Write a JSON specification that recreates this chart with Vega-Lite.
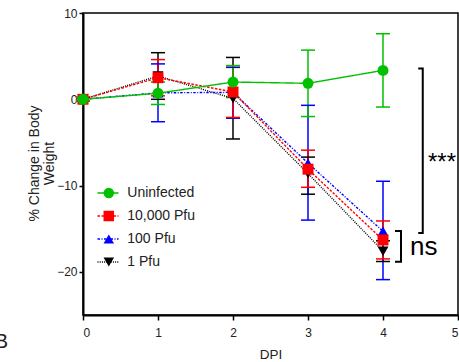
{
  "$schema": "https://vega.github.io/schema/vega-lite/v6.json",
  "width": 375,
  "height": 302,
  "autosize": {"type": "none"},
  "padding": {"left": 83, "top": 13, "right": 1, "bottom": 47},
  "background": "white",
  "config": {
    "font": "Liberation Sans",
    "view": {"stroke": "black", "strokeWidth": 1.5},
    "axis": {
      "grid": false,
      "domainColor": "black",
      "domainWidth": 2,
      "tickColor": "black",
      "tickWidth": 1.5,
      "labelColor": "#222",
      "titleColor": "#222",
      "labelFont": "Liberation Sans",
      "titleFont": "Liberation Sans",
      "titleFontWeight": "normal",
      "labelFontSize": 12
    }
  },
  "datasets": {
    "weights": [
      {"dpi": 0, "group": "1 Pfu", "mean": 0, "lo": -0.2, "hi": 0.2},
      {"dpi": 1, "group": "1 Pfu", "mean": 2.7, "lo": 0.0, "hi": 5.4},
      {"dpi": 2, "group": "1 Pfu", "mean": 0.1, "lo": -4.6, "hi": 4.85},
      {"dpi": 3, "group": "1 Pfu", "mean": -8.6, "lo": -11.0, "hi": -6.7},
      {"dpi": 4, "group": "1 Pfu", "mean": -17.6, "lo": -18.8, "hi": -16.4},
      {"dpi": 0, "group": "100 Pfu", "mean": 0, "lo": -0.2, "hi": 0.2},
      {"dpi": 1, "group": "100 Pfu", "mean": 0.75, "lo": -2.6, "hi": 4.1},
      {"dpi": 2, "group": "100 Pfu", "mean": 0.8, "lo": -2.2, "hi": 3.7},
      {"dpi": 3, "group": "100 Pfu", "mean": -7.4, "lo": -14.0, "hi": -0.7},
      {"dpi": 4, "group": "100 Pfu", "mean": -15.3, "lo": -20.9, "hi": -9.5},
      {"dpi": 0, "group": "10,000 Pfu", "mean": 0, "lo": -0.2, "hi": 0.2},
      {"dpi": 1, "group": "10,000 Pfu", "mean": 2.5, "lo": 0.4, "hi": 4.6},
      {"dpi": 2, "group": "10,000 Pfu", "mean": 0.85, "lo": -2.1, "hi": 3.9},
      {"dpi": 3, "group": "10,000 Pfu", "mean": -8.1, "lo": -10.2, "hi": -5.9},
      {"dpi": 4, "group": "10,000 Pfu", "mean": -16.3, "lo": -18.5, "hi": -14.1},
      {"dpi": 0, "group": "Uninfected", "mean": 0, "lo": -0.2, "hi": 0.2},
      {"dpi": 1, "group": "Uninfected", "mean": 0.7, "lo": -0.6, "hi": 2.0},
      {"dpi": 2, "group": "Uninfected", "mean": 2.0, "lo": 0.2, "hi": 3.9},
      {"dpi": 3, "group": "Uninfected", "mean": 1.85, "lo": -2.0, "hi": 5.7},
      {"dpi": 4, "group": "Uninfected", "mean": 3.35, "lo": -0.9, "hi": 7.6}
    ],
    "brackets": [
      {"br": "stars", "o": 1, "bx": 4.47, "by": 3.58},
      {"br": "stars", "o": 2, "bx": 4.53, "by": 3.58},
      {"br": "stars", "o": 3, "bx": 4.53, "by": -15.5},
      {"br": "stars", "o": 4, "bx": 4.47, "by": -15.5},
      {"br": "ns", "o": 1, "bx": 4.16, "by": -15.26},
      {"br": "ns", "o": 2, "bx": 4.24, "by": -15.26},
      {"br": "ns", "o": 3, "bx": 4.24, "by": -18.84},
      {"br": "ns", "o": 4, "bx": 4.16, "by": -18.84}
    ]
  },
  "layer": [
    {
      "mark": {"type": "rule", "stroke": "#999999", "strokeWidth": 3.5, "strokeDash": [1, 6.5]},
      "encoding": {
        "y": {"datum": 0, "type": "quantitative", "scale": {"domain": [-25, 10], "nice": false, "zero": false}}
      }
    },
    {
      "data": {"name": "weights"},
      "mark": {"type": "rule", "strokeWidth": 1.5},
      "encoding": {
        "x": {"field": "dpi", "type": "quantitative", "scale": {"domain": [0, 5], "nice": false},
          "axis": {"values": [0, 1, 2, 3, 4, 5], "tickSize": 5, "labelPadding": 7, "title": "DPI", "titleFontSize": 13.5, "titleBaseline": "alphabetic", "titleY": 43, "format": "d"}},
        "y": {"field": "lo", "type": "quantitative", "scale": {"domain": [-25, 10], "nice": false, "zero": false},
          "axis": {"values": [-20, -10, 0, 10], "tickSize": 4, "labelPadding": 2, "format": "d",
            "title": ["% Change in Body", "Weight"], "titleFontSize": 14, "titleBaseline": "top", "titleX": -56, "titleY": 150, "titleLineHeight": 15}},
        "y2": {"field": "hi"},
        "stroke": {"field": "group", "type": "nominal", "legend": null,
          "scale": {"domain": ["1 Pfu", "100 Pfu", "10,000 Pfu", "Uninfected"], "range": ["#000000", "#0000ff", "#ff0000", "#00c000"]}}
      }
    },
    {
      "data": {"name": "weights"},
      "mark": {"type": "tick", "orient": "horizontal", "size": 14, "thickness": 1.5, "opacity": 1},
      "encoding": {
        "x": {"field": "dpi", "type": "quantitative"},
        "y": {"field": "lo", "type": "quantitative"},
        "fill": {"field": "group", "type": "nominal", "legend": null,
          "scale": {"domain": ["1 Pfu", "100 Pfu", "10,000 Pfu", "Uninfected"], "range": ["#000000", "#0000ff", "#ff0000", "#00c000"]}}
      }
    },
    {
      "data": {"name": "weights"},
      "mark": {"type": "tick", "orient": "horizontal", "size": 14, "thickness": 1.5, "opacity": 1},
      "encoding": {
        "x": {"field": "dpi", "type": "quantitative"},
        "y": {"field": "hi", "type": "quantitative"},
        "fill": {"field": "group", "type": "nominal", "legend": null}
      }
    },
    {
      "data": {"name": "weights"},
      "mark": {"type": "line", "strokeWidth": 1.4},
      "encoding": {
        "x": {"field": "dpi", "type": "quantitative"},
        "y": {"field": "mean", "type": "quantitative"},
        "stroke": {"field": "group", "type": "nominal", "legend": null},
        "strokeDash": {"field": "group", "type": "nominal",
          "sort": ["Uninfected", "10,000 Pfu", "100 Pfu", "1 Pfu"],
          "scale": {"range": [[1, 0], [2.5, 1.5], [2.5, 1.5, 1, 1.5], [1, 1.2], [1, 0]]},
          "legend": {
            "orient": "none", "legendX": 13.5, "legendY": 172, "title": null,
            "symbolType": "stroke", "symbolSize": 441, "symbolStrokeWidth": 1.5,
            "labelExpr": "''", "labelOpacity": 0, "clipHeight": 16, "rowPadding": 7, "padding": 0,
            "encode": {"symbols": {"update": {"stroke": {"signal": "scale('stroke', datum.value)"}}}}
          }}
      }
    },
    {
      "data": {"name": "weights"},
      "mark": {"type": "point", "filled": true, "opacity": 1, "size": 120},
      "encoding": {
        "x": {"field": "dpi", "type": "quantitative"},
        "y": {"field": "mean", "type": "quantitative"},
        "color": {"field": "group", "type": "nominal",
          "scale": {"domain": ["Uninfected", "10,000 Pfu", "100 Pfu", "1 Pfu"], "range": ["#00c000", "#ff0000", "#0000ff", "#000000"]},
          "legend": {
            "orient": "none", "legendX": 18.8, "legendY": 172, "title": null,
            "symbolSize": 110, "symbolOpacity": 1, "labelFontSize": 14, "labelOffset": 11.5, "labelColor": "#222",
            "labelFont": "Liberation Sans", "clipHeight": 16, "rowPadding": 7, "padding": 0
          }},
        "shape": {"field": "group", "type": "nominal",
          "scale": {"domain": ["Uninfected", "10,000 Pfu", "100 Pfu", "1 Pfu"], "range": ["circle", "square", "triangle-up", "triangle-down"]}}
      }
    },
    {
      "data": {"name": "brackets"},
      "mark": {"type": "line", "stroke": "black", "strokeWidth": 2},
      "encoding": {
        "x": {"field": "bx", "type": "quantitative"},
        "y": {"field": "by", "type": "quantitative"},
        "detail": {"field": "br", "type": "nominal"},
        "order": {"field": "o", "type": "quantitative"}
      }
    },
    {
      "data": {"values": [
        {"lx": 4.6, "ly": -8.2, "txt": "***"}
      ]},
      "mark": {"type": "text", "align": "left", "baseline": "alphabetic", "fontSize": 24, "color": "black", "font": "Liberation Sans"},
      "encoding": {
        "x": {"field": "lx", "type": "quantitative"},
        "y": {"field": "ly", "type": "quantitative"},
        "text": {"field": "txt"}
      }
    },
    {
      "data": {"values": [
        {"lx": 4.36, "ly": -18.0, "txt": "ns"}
      ]},
      "mark": {"type": "text", "align": "left", "baseline": "alphabetic", "fontSize": 26, "color": "black", "font": "Liberation Sans"},
      "encoding": {
        "x": {"field": "lx", "type": "quantitative"},
        "y": {"field": "ly", "type": "quantitative"},
        "text": {"field": "txt"}
      }
    },
    {
      "data": {"values": [
        {"lx": -1.0, "ly": -28.8, "txt": "B"}
      ]},
      "mark": {"type": "text", "align": "right", "baseline": "alphabetic", "fontSize": 20, "color": "#222", "font": "Liberation Sans"},
      "encoding": {
        "x": {"field": "lx", "type": "quantitative"},
        "y": {"field": "ly", "type": "quantitative"},
        "text": {"field": "txt"}
      }
    }
  ]
}
